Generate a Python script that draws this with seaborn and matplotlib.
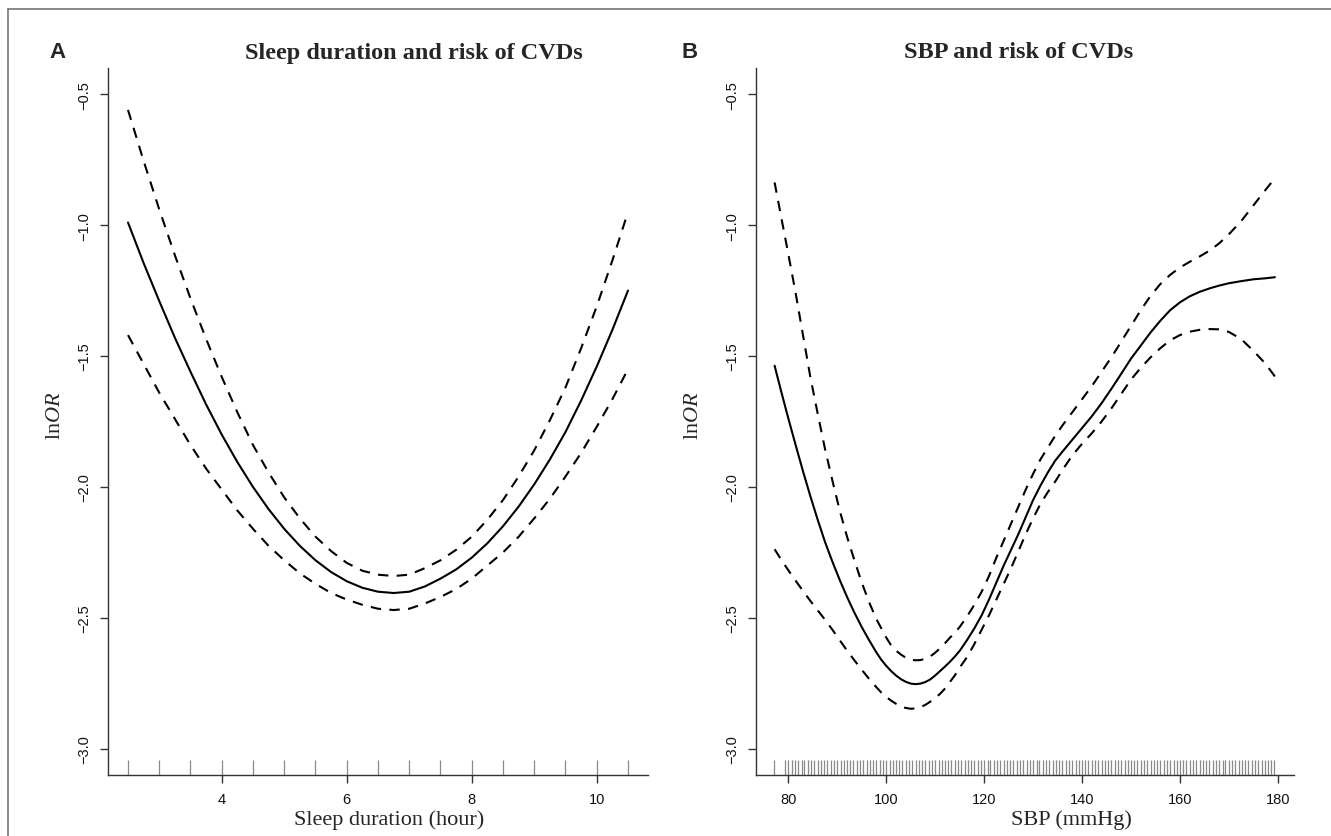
import matplotlib
matplotlib.use("Agg")
import matplotlib.pyplot as plt
from matplotlib.lines import Line2D
import seaborn as sns

# Panel A: sleep duration (hour)
sleep_x = [2.5, 2.75, 3.0, 3.25, 3.5, 3.75, 4.0, 4.25, 4.5, 4.75, 5.0, 5.25, 5.5, 5.75, 6.0, 6.25,
           6.5, 6.75, 7.0, 7.25, 7.5, 7.75, 8.0, 8.25, 8.5, 8.75, 9.0, 9.25, 9.5, 9.75, 10.0,
           10.25, 10.5]
sleep_fit = [-0.99, -1.145, -1.29, -1.43, -1.56, -1.685, -1.80, -1.905, -2.00, -2.085, -2.16,
             -2.225, -2.28, -2.325, -2.36, -2.385, -2.40, -2.405, -2.40, -2.38, -2.35, -2.315,
             -2.27, -2.215, -2.15, -2.075, -1.99, -1.895, -1.79, -1.67, -1.54, -1.40, -1.25]
sleep_upper = [-0.56, -0.755, -0.94, -1.115, -1.28, -1.435, -1.58, -1.715, -1.84, -1.945, -2.04,
               -2.12, -2.19, -2.245, -2.29, -2.32, -2.335, -2.34, -2.335, -2.31, -2.28, -2.24,
               -2.19, -2.125, -2.05, -1.96, -1.86, -1.745, -1.62, -1.47, -1.31, -1.135, -0.95]
sleep_lower = [-1.42, -1.53, -1.64, -1.74, -1.84, -1.93, -2.01, -2.09, -2.16, -2.225, -2.28,
               -2.33, -2.37, -2.405, -2.43, -2.45, -2.465, -2.47, -2.465, -2.445, -2.42, -2.39,
               -2.35, -2.30, -2.25, -2.19, -2.12, -2.045, -1.96, -1.87, -1.77, -1.665, -1.55]
sleep_rug = [2.5, 3.0, 3.5, 4.0, 4.5, 5.0, 5.5, 6.0, 6.5, 7.0, 7.5, 8.0, 8.5, 9.0, 9.5, 10.0, 10.5]

# Panel B: SBP (mmHg)
sbp_x = [77.2, 78.5, 80, 81.5, 83, 84.5, 86, 87.5, 89, 90.5, 92, 93.5, 95, 96.5, 98, 99, 100,
         101, 102, 103, 104, 105, 106, 107, 108, 109, 110, 111, 112, 113, 114, 115, 116.5, 118,
         119.5, 121, 122.5, 124, 125.5, 127, 128.5, 130, 131.5, 133, 134.5, 136, 138, 140, 142,
         144, 146, 148, 150, 152, 154, 156, 158, 160, 162, 164, 166, 168, 170, 172.5, 175,
         177.5, 179.4]
sbp_fit = [-1.537, -1.632, -1.738, -1.84, -1.94, -2.035, -2.125, -2.21, -2.285, -2.355, -2.42,
           -2.48, -2.535, -2.585, -2.632, -2.66, -2.683, -2.703, -2.72, -2.734, -2.744, -2.751,
           -2.753, -2.751, -2.745, -2.735, -2.72, -2.703, -2.686, -2.668, -2.648, -2.626,
           -2.585, -2.54, -2.49, -2.43, -2.365, -2.30, -2.24, -2.18, -2.115, -2.05, -1.995,
           -1.945, -1.90, -1.865, -1.82, -1.775, -1.73, -1.68, -1.625, -1.568, -1.51, -1.46,
           -1.41, -1.365, -1.325, -1.295, -1.272, -1.255, -1.242, -1.231, -1.222, -1.214,
           -1.207, -1.203, -1.199]
sbp_upper = [-0.837, -0.965, -1.11, -1.26, -1.42, -1.58, -1.72, -1.855, -1.975, -2.09, -2.19,
             -2.28, -2.365, -2.44, -2.505, -2.54, -2.575, -2.605, -2.625, -2.64, -2.652, -2.659,
             -2.662, -2.661, -2.656, -2.647, -2.633, -2.616, -2.597, -2.576, -2.557, -2.535,
             -2.495, -2.45, -2.40, -2.34, -2.27, -2.205, -2.14, -2.075, -2.01, -1.95, -1.895,
             -1.85, -1.805, -1.765, -1.715, -1.665, -1.615, -1.56, -1.505, -1.445, -1.385,
             -1.325, -1.27, -1.225, -1.19, -1.162, -1.14, -1.12, -1.098, -1.07, -1.035, -0.985,
             -0.925, -0.865, -0.821]
sbp_lower = [-2.238, -2.276, -2.318, -2.358, -2.397, -2.435, -2.471, -2.507, -2.545, -2.585,
             -2.625, -2.662, -2.698, -2.733, -2.765, -2.785, -2.802, -2.816, -2.828, -2.838,
             -2.844, -2.847, -2.846, -2.841, -2.832, -2.82, -2.806, -2.79, -2.77, -2.745, -2.72,
             -2.69, -2.65, -2.60, -2.545, -2.49, -2.43, -2.37, -2.31, -2.245, -2.18, -2.12,
             -2.065, -2.02, -1.98, -1.935, -1.88, -1.835, -1.795, -1.75, -1.70, -1.645, -1.59,
             -1.545, -1.505, -1.47, -1.44, -1.42, -1.407, -1.40, -1.397, -1.398, -1.408, -1.435,
             -1.48, -1.53, -1.578]
sbp_rug = [77.0, 79.3,
           80.0, 80.7, 81.3, 82.0, 82.7, 83.3, 84.0, 84.7, 85.3, 86.0, 86.7, 87.3, 88.0, 88.7, 89.3,
           90.0, 90.7, 91.3, 92.0, 92.7, 93.3, 94.0, 94.7, 95.3, 96.0, 96.7, 97.3, 98.0, 98.7, 99.3,
           100.0, 100.7, 101.3, 102.0, 102.7, 103.3, 104.0, 104.7, 105.3, 106.0, 106.7, 107.3, 108.0, 108.7, 109.3,
           110.0, 110.7, 111.3, 112.0, 112.7, 113.3, 114.0, 114.7, 115.3, 116.0, 116.7, 117.3, 118.0, 118.7, 119.3,
           120.0, 120.7, 121.3, 122.0, 122.7, 123.3, 124.0, 124.7, 125.3, 126.0, 126.7, 127.3, 128.0, 128.7, 129.3,
           130.0, 130.7, 131.3, 132.0, 132.7, 133.3, 134.0, 134.7, 135.3, 136.0, 136.7, 137.3, 138.0, 138.7, 139.3,
           140.0, 140.7, 141.3, 142.0, 142.7, 143.3, 144.0, 144.7, 145.3, 146.0, 146.7, 147.3, 148.0, 148.7, 149.3,
           150.0, 150.7, 151.3, 152.0, 152.7, 153.3, 154.0, 154.7, 155.3, 156.0, 156.7, 157.3, 158.0, 158.7, 159.3,
           160.0, 160.7, 161.3, 162.0, 162.7, 163.3, 164.0, 164.7, 165.3, 166.0, 166.7, 167.3, 168.0, 168.7, 169.3,
           170.0, 170.7, 171.3, 172.0, 172.7, 173.3, 174.0, 174.7, 175.3, 176.0, 176.7, 177.3, 178.0, 178.7, 179.3]

y_ticks = [-3.0, -2.5, -2.0, -1.5, -1.0, -0.5]
sleep_ticks = [4, 6, 8, 10]
sbp_ticks = [80, 100, 120, 140, 160, 180]

sns.set_style("ticks")
plt.rcParams["font.family"] = ["Liberation Sans", "DejaVu Sans"]
plt.rcParams["mathtext.fontset"] = "custom"
plt.rcParams["mathtext.rm"] = "Liberation Serif"
plt.rcParams["mathtext.it"] = "Liberation Serif:italic"

fig = plt.figure(figsize=(13.31, 8.37), dpi=100)
W, H = 1331, 837
ax_a = fig.add_axes([108 / W, (H - 776) / H, 540 / W, 707 / H])
ax_b = fig.add_axes([756 / W, (H - 776) / H, 538 / W, 707 / H])

dash = (0, (5, 4))
serif = "Liberation Serif"


def draw_panel(ax, x, fit, upper, lower, rug, xticks, xlim, xlabel, xlab_x, ylab_x):
    sns.lineplot(x=x, y=fit, color="black", linewidth=1.5, ax=ax, estimator=None, sort=False)
    sns.lineplot(x=x, y=upper, color="black", linewidth=1.5, linestyle=dash, ax=ax,
                 estimator=None, sort=False)
    sns.lineplot(x=x, y=lower, color="black", linewidth=1.5, linestyle=dash, ax=ax,
                 estimator=None, sort=False)
    sns.rugplot(x=rug, height=0.021, color="#8a8a8a", linewidth=0.9, ax=ax)
    ax.set_xlim(*xlim)
    ax.set_ylim(-3.1, -0.4)
    ax.set_xticks(xticks)
    ax.set_yticks(y_ticks)
    ax.set_yticklabels([f"{v:.1f}".replace("-", "\u2212") for v in y_ticks])
    for lab in ax.get_yticklabels():
        lab.set_rotation(90)
        lab.set_va("center")
    sns.despine(ax=ax)
    for s in ("left", "bottom"):
        ax.spines[s].set_color("#333333")
        ax.spines[s].set_linewidth(1.0)
    ax.tick_params(length=6, width=1.0, color="#333333", labelsize=10.5, pad=6,
                   labelcolor="#111111")
    ax.set_xlabel(xlabel, fontsize=16, family=serif)
    ax.xaxis.set_label_coords(xlab_x, -0.062)
    ax.xaxis.label.set_va("center")
    ax.set_ylabel(r"ln$\mathit{OR}$", fontsize=16, family=serif)
    ax.yaxis.set_label_coords(ylab_x, 0.51)
    ax.yaxis.label.set_va("center")


draw_panel(ax_a, sleep_x, sleep_fit, sleep_upper, sleep_lower, sleep_rug, sleep_ticks,
           (2.18, 10.82), "Sleep duration (hour)", 0.52, -0.098)
draw_panel(ax_b, sbp_x, sbp_fit, sbp_upper, sbp_lower, sbp_rug, sbp_ticks,
           (73.4, 183.3), "SBP (mmHg)", 0.587, -0.117)

fig.text(414 / W, 1 - 53 / H, "Sleep duration and risk of CVDs", family=serif,
         fontweight="bold", fontsize=17.5, ha="center", va="center")
fig.text(1019 / W, 1 - 53 / H, "SBP and risk of CVDs", family=serif,
         fontweight="bold", fontsize=17.5, ha="center", va="center")
fig.text(57 / W, 1 - 53 / H, "A", fontweight="bold", fontsize=16, ha="center", va="center")
fig.text(690 / W, 1 - 53 / H, "B", fontweight="bold", fontsize=16, ha="center", va="center")

# partial frame (top and left edges)
fig.add_artist(Line2D([8 / W, 1.0], [1 - 10 / H, 1 - 10 / H], transform=fig.transFigure,
                      color="#777777", linewidth=1.2))
fig.add_artist(Line2D([8 / W, 8 / W], [0.0, 1 - 10 / H], transform=fig.transFigure,
                      color="#777777", linewidth=1.2))

fig.savefig("out.png", dpi=100)
